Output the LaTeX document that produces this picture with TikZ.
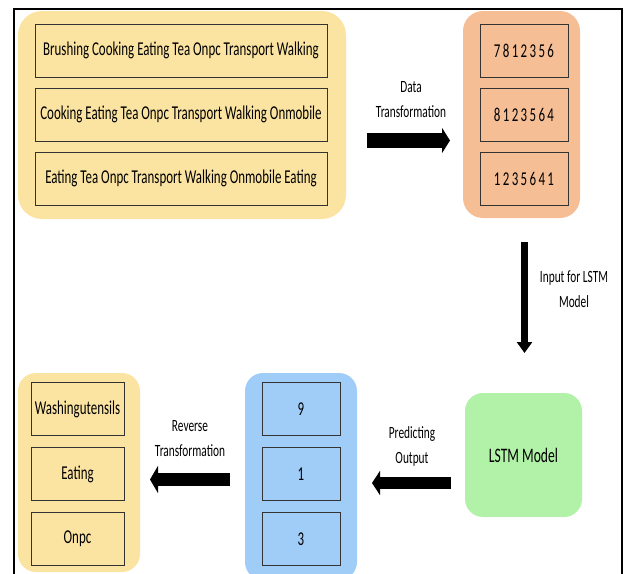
\documentclass[tikz,border=0pt]{standalone}
\usepackage{fontspec}
\setmainfont{Carlito}[FakeStretch=0.66]
\usetikzlibrary{arrows.meta}

\definecolor{actyellow}{HTML}{FBE3A2}
\definecolor{codeorange}{HTML}{F6BE95}
\definecolor{outblue}{HTML}{A0CDF8}
\definecolor{lstmgreen}{HTML}{B2F2A8}

\begin{document}
\begin{tikzpicture}[x=1pt, y=-1pt,
    group/.style={rounded corners=#1, inner sep=0pt},
    cell/.style={draw=black!80, line width=1pt, inner sep=0pt, minimum height=53pt,
        font=\fontsize{19.6pt}{22pt}\selectfont},
    lbl/.style={align=center, font=\fontsize{17.2pt}{25pt}\selectfont}
]
    \useasboundingbox (0,0) rectangle (625,574);

    % frame
    \draw[line width=1.2pt] (14,574) -- (14,9) -- (622,9) -- (622,574);

    % activity sequences
    \node[group=24pt, fill=actyellow, minimum width=328pt, minimum height=208pt] (seqgrp) at (182,115) {};
    \foreach \txt [count=\i] in {Brushing Cooking Eating Tea Onpc Transport Walking,
            Cooking Eating Tea Onpc Transport Walking Onmobile,
            Eating Tea Onpc Transport Walking Onmobile Eating}
        \node[cell, fill=actyellow, minimum width=292pt] (seq\i) at (181,{50.5+64*(\i-1)}) {\txt};

    % encoded sequences
    \node[group=20pt, fill=codeorange, minimum width=117pt, minimum height=207pt] (codegrp) at (521.5,114.5) {};
    \foreach \txt [count=\i] in {7812356, 8123564, 1235641}
        \node[cell, fill=codeorange, minimum width=88pt] (code\i) at (524,{50.5+64*(\i-1)}) {\addfontfeature{LetterSpace=12}\txt};

    % lstm
    \node[group=18pt, fill=lstmgreen, minimum width=117pt, minimum height=124pt,
        font=\fontsize{20.6pt}{22pt}\selectfont] (lstm) at (523.5,455) {LSTM Model};

    % predicted codes
    \node[group=18pt, fill=outblue, minimum width=112pt, minimum height=207pt] (predgrp) at (301,476.5) {};
    \foreach \txt [count=\i] in {9, 1, 3}
        \node[cell, fill=outblue, minimum width=78pt] (pred\i) at (301,{409+65*(\i-1)}) {\txt};

    % predicted activities
    \node[group=18pt, fill=actyellow, minimum width=122pt, minimum height=199pt] (actgrp) at (79,472.5) {};
    \foreach \txt [count=\i] in {Washingutensils, Eating, Onpc}
        \node[cell, fill=actyellow, minimum width=93pt] (act\i) at (77.5,{409+65*(\i-1)}) {\txt};

    % arrows
    \coordinate (dtA) at (367,140.5);
    \coordinate (dtB) at (450,140.5);
    \coordinate (inA) at (524.5,242);
    \coordinate (inB) at (524.5,353);
    \coordinate (poA) at (451,483);
    \coordinate (poB) at (372,483);
    \coordinate (rtA) at (230,479.5);
    \coordinate (rtB) at (150,479.5);

    \draw[line width=15pt, -{Triangle[length=8pt,width=25pt]}] (dtA) -- (dtB);
    \draw[line width=7.5pt, -{Triangle[length=11pt,width=15pt]}] (inA) -- (inB);
    \draw[line width=12pt, -{Triangle[length=8pt,width=24pt]}] (poA) -- (poB);
    \draw[line width=13pt, -{Triangle[length=8pt,width=27pt]}] (rtA) -- (rtB);

    \node[lbl] (dtlbl) at (411,99.5) {Data\\Transformation};
    \node[lbl] (inlbl) at (574,289.5) {Input for LSTM\\Model};
    \node[lbl] (polbl) at (412,446.5) {Predicting\\Output};
    \node[lbl] (rtlbl) at (190,438.5) {Reverse\\Transformation};

\end{tikzpicture}
\end{document}
